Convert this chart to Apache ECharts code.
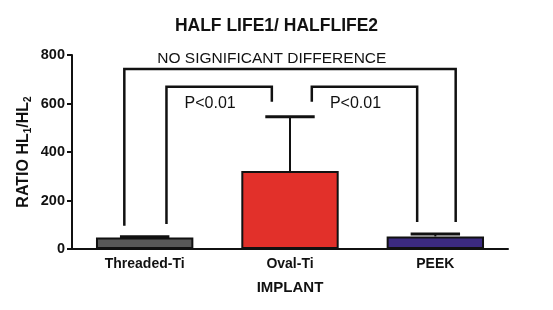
<!DOCTYPE html>
<html>
<head>
<meta charset="utf-8">
<script src="https://cdn.jsdelivr.net/npm/echarts@6/dist/echarts.min.js"></script>
<style>
  html, body { margin: 0; padding: 0; background: #fff; }
  #main { width: 553px; height: 310px; }
</style>
</head>
<body>
<div id="main"></div>
<script>
  // categories and values
  var categories = ['Threaded-Ti', 'Oval-Ti', 'PEEK']
  var ratioMean = [47, 322, 52]
  var ratioErr = [4, 223, 10] // upper error (SEM)
  var barColors = ['#585858', '#e2302a', '#3b2a80']
  var yTicks = [0, 200, 400, 600, 800]

  // significance brackets: [from category, to category]
  var sigPairs = [[0, 2], [0, 1], [1, 2]]
  var sigText = ['NO SIGNIFICANT DIFFERENCE', 'P<0.01', 'P<0.01']
  var sigTop = [742, 669, 669]    // height of the horizontal part
  var sigLeftEnd = [96, 103, 607] // where the left leg ends
  var sigRightEnd = [111, 607, 111] // where the right leg ends

  var font = 'Liberation Sans, Arial, sans-serif'
  var myChart = echarts.init(document.getElementById('main'))

  var option = {
    animation: false,
    title: {
      text: 'HALF LIFE1/ HALFLIFE2',
      left: 'center',
      top: 12,
      textStyle: { fontFamily: font, fontWeight: 'bold', fontSize: 17.5, color: '#111' }
    },
    grid: { left: 72, right: 45, top: 55, bottom: 61 },
    xAxis: {
      type: 'category',
      data: categories,
      name: 'IMPLANT',
      nameLocation: 'middle',
      nameGap: 31,
      nameMoveOverlap: false,
      nameTextStyle: { fontFamily: font, fontWeight: 'bold', fontSize: 15, color: '#111' },
      axisLine: { lineStyle: { color: '#111', width: 2 } },
      axisTick: { alignWithLabel: true, length: 5, lineStyle: { color: '#111', width: 2 } },
      axisLabel: { fontFamily: font, fontWeight: 'bold', fontSize: 14, color: '#111', margin: 8 }
    },
    yAxis: {
      type: 'value',
      min: yTicks[0],
      max: yTicks[yTicks.length - 1],
      interval: yTicks[1] - yTicks[0],
      name: 'RATIO HL{sub|1}/HL{sub|2}',
      nameLocation: 'middle',
      nameGap: 40,
      nameMoveOverlap: false,
      nameTextStyle: {
        fontFamily: font, fontWeight: 'bold', fontSize: 16, color: '#111',
        rich: {
          sub: { fontFamily: font, fontWeight: 'bold', fontSize: 10, color: '#111', lineHeight: 10, padding: [9, 0, 0, 0] }
        }
      },
      splitLine: { show: false },
      axisLine: { show: true, lineStyle: { color: '#111', width: 2 } },
      axisTick: { show: true, length: 5, lineStyle: { color: '#111', width: 2 } },
      axisLabel: { fontFamily: font, fontWeight: 'bold', fontSize: 14.5, color: '#111', margin: 7 }
    },
    series: [
      {
        type: 'bar',
        barWidth: '67%',
        data: ratioMean.map(function(v, i) {
          return { value: v, itemStyle: { color: barColors[i] } }
        }),
        itemStyle: { borderColor: '#111', borderWidth: 2 },
        z: 2
      },
      {
        // error bars (upper only)
        type: 'custom',
        data: ratioMean.map(function(v, i) { return [i, v, v + ratioErr[i]] }),
        renderItem: function(params, api) {
          var base = api.coord([api.value(0), api.value(1)])
          var top = api.coord([api.value(0), api.value(2)])
          var half = api.size([1, 0])[0] * 0.17
          return {
            type: 'group',
            children: [
              { type: 'line', shape: { x1: base[0], y1: base[1], x2: top[0], y2: top[1] }, style: { stroke: '#111', lineWidth: 2 } },
              { type: 'line', shape: { x1: top[0] - half, y1: top[1], x2: top[0] + half, y2: top[1] }, style: { stroke: '#111', lineWidth: 3 } }
            ]
          }
        },
        z: 1
      },
      {
        // significance brackets
        type: 'custom',
        data: sigPairs.map(function(p, i) { return [p[0], p[1], sigTop[i], sigLeftEnd[i], sigRightEnd[i], i] }),
        renderItem: function(params, api) {
          var a = api.value(0), b = api.value(1)
          var wide = (b - a) > 1
          var band = api.size([1, 0])[0]
          var offL = wide ? -0.14 : 0.15
          var offR = wide ? 0.14 : -0.125
          var tl = api.coord([a, api.value(2)])
          var tr = api.coord([b, api.value(2)])
          var lb = api.coord([a, api.value(3)])
          var rb = api.coord([b, api.value(4)])
          var xl = tl[0] + offL * band
          var xr = tr[0] + offR * band
          var idx = api.value(5)
          var txt
          if (wide) {
            txt = { type: 'text', x: api.coord([1, 0])[0] - 0.125 * band, y: tl[1] - 2,
              style: { text: sigText[idx], fontFamily: font, fontSize: 15.5, fill: '#111', align: 'center', verticalAlign: 'bottom' } }
          } else {
            txt = { type: 'text', x: (xl + xr) / 2 - 9, y: tl[1] + 9,
              style: { text: sigText[idx], fontFamily: font, fontSize: 16, fill: '#111', align: 'center', verticalAlign: 'top' } }
          }
          return {
            type: 'group',
            children: [
              { type: 'polyline', shape: { points: [[xl, lb[1]], [xl, tl[1]], [xr, tr[1]], [xr, rb[1]]] }, style: { stroke: '#111', lineWidth: 2.5, fill: null } },
              txt
            ]
          }
        },
        z: 3
      }
    ]
  }

  myChart.setOption(option)
</script>
</body>
</html>
